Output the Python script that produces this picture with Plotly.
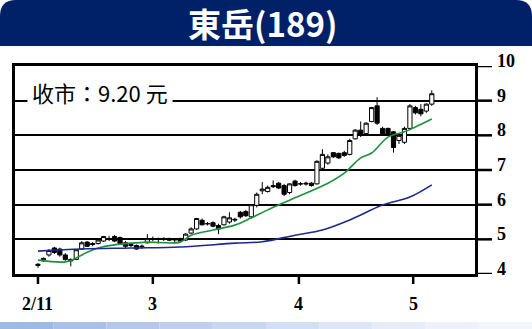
import plotly.graph_objects as go

# ---- data (trading-day index, OHLC) ----
day_idx = list(range(73))
opens = [4.28,4.38,4.55,4.75,4.72,4.55,4.42,4.42,4.72,4.92,4.88,4.88,4.95,5.00,5.08,5.05,4.90,4.85,4.82,4.78,
         4.90,5.00,5.02,5.00,5.00,4.98,5.00,4.98,5.18,5.30,5.55,5.45,5.48,5.40,5.42,5.50,5.58,5.78,5.80,5.65,
         5.98,6.40,6.38,6.55,6.62,6.55,6.35,6.68,6.60,6.62,6.62,6.60,7.05,7.20,7.50,7.48,7.50,7.45,7.90,8.15,
         8.05,8.40,8.85,8.20,8.20,8.10,7.85,7.80,8.20,8.80,8.75,8.70,8.90]
highs = [4.32,4.48,4.72,4.78,4.76,4.60,4.45,4.72,4.95,4.95,4.92,5.00,5.10,5.10,5.12,5.08,4.95,4.90,4.85,4.85,
         5.15,5.08,5.05,5.06,5.05,5.04,5.05,5.18,5.35,5.62,5.60,5.50,5.52,5.45,5.68,5.78,5.62,5.82,5.85,6.02,
         6.35,6.65,6.55,6.70,6.65,6.60,6.62,6.72,6.65,6.66,6.65,7.28,7.60,7.45,7.52,7.50,7.55,7.90,8.18,8.40,
         8.38,8.82,9.10,8.25,8.22,8.12,8.05,8.25,8.90,8.85,8.90,8.92,9.30]
lows = [4.18,4.35,4.50,4.58,4.50,4.38,4.22,4.40,4.70,4.78,4.80,4.85,4.92,4.95,4.92,4.85,4.75,4.78,4.70,4.72,
        4.88,4.95,4.88,4.95,4.95,4.92,4.92,4.95,5.15,5.28,5.40,5.40,5.35,5.15,5.40,5.45,5.50,5.60,5.65,5.60,
        5.92,6.30,6.35,6.48,6.45,6.25,6.30,6.52,6.55,6.55,6.52,6.58,7.00,7.15,7.35,7.32,7.38,7.42,7.88,7.95,
        8.00,8.38,8.30,7.98,7.98,7.50,7.75,7.75,8.18,8.60,8.55,8.65,8.85]
closes = [4.25,4.45,4.68,4.62,4.55,4.42,4.38,4.70,4.90,4.80,4.85,4.98,5.08,5.02,4.95,4.88,4.80,4.82,4.72,4.80,
          5.02,5.02,5.00,5.02,4.98,5.00,4.95,5.15,5.30,5.60,5.42,5.45,5.38,5.30,5.65,5.62,5.56,5.65,5.68,6.00,
          6.30,6.45,6.50,6.52,6.48,6.30,6.60,6.55,6.60,6.60,6.55,7.25,7.45,7.38,7.38,7.35,7.42,7.85,8.15,8.00,
          8.35,8.80,8.35,8.00,8.02,7.65,8.00,8.20,8.85,8.65,8.62,8.90,9.20]

ma_short_idx = [0,5,7,9,11,14,17,20,26,28,32,36,39,42,46,53,56,59,61,64,67,69,72]
ma_short = [4.40,4.35,4.46,4.63,4.75,4.84,4.89,4.92,4.92,5.12,5.27,5.41,5.62,5.85,6.13,6.62,6.91,7.35,7.49,7.95,8.10,8.24,8.47]
ma_long_idx = [0,8,17,26,36,41,47,52,57,63,68,72]
ma_long = [4.66,4.72,4.75,4.78,4.89,4.93,5.12,5.27,5.56,5.99,6.22,6.57]

tick_pos = [0, 21, 47.7, 68.6]
tick_text = ["2/11", "3", "4", "5"]
y_ticks = [4, 5, 6, 7, 8, 9, 10]

title_text = "東岳(189)"
close_text = "收市：9.20 元"

W, H = 532, 329
L, R, T, B = 15, 57, 66, 55
pw, ph = W - L - R, H - T - B

def px_x(p):
    return (p - L) / pw

def px_y(p):
    return (H - B - p) / ph

fig = go.Figure()
fig.add_trace(go.Candlestick(
    x=day_idx, open=opens, high=highs, low=lows, close=closes,
    increasing=dict(line=dict(color="black", width=1), fillcolor="white"),
    decreasing=dict(line=dict(color="black", width=1), fillcolor="black"),
    whiskerwidth=0, showlegend=False, hoverinfo="skip"))
fig.add_trace(go.Scatter(x=ma_short_idx, y=ma_short, mode="lines",
                         line=dict(color="#1f9040", width=1.6, shape="spline"), showlegend=False))
fig.add_trace(go.Scatter(x=ma_long_idx, y=ma_long, mode="lines",
                         line=dict(color="#1c2a8c", width=1.6, shape="spline"), showlegend=False))

shapes = []
# title bar with rounded top corners
x0, x1 = px_x(0), px_x(W)
yb, yt = px_y(46), px_y(0)
rx, ry = 16 / pw, 16 / ph
path = (f"M {x0},{yb} L {x0},{yt-ry} Q {x0},{yt} {x0+rx},{yt} L {x1-rx},{yt} "
        f"Q {x1},{yt} {x1},{yt-ry} L {x1},{yb} Z")
shapes.append(dict(type="path", xref="paper", yref="paper", path=path,
                   fillcolor="#002068", line=dict(width=0), layer="below"))
# bottom gradient band
band_cols = ["#9fb9e6", "#a9c0e9", "#b4c8ec", "#bfd0ef", "#c9d8f2", "#d3dff4", "#dde6f6", "#e6ecf8", "#edf1f9", "#f2f5fb"]
n = len(band_cols)
for i, c in enumerate(band_cols):
    shapes.append(dict(type="rect", xref="paper", yref="paper",
                       x0=px_x(W * i / n), x1=px_x(W * (i + 1) / n),
                       y0=px_y(H), y1=px_y(322), fillcolor=c, line=dict(width=0), layer="below"))
# tick marks
for tp in tick_pos:
    shapes.append(dict(type="line", xref="x", yref="paper", x0=tp, x1=tp,
                       y0=0, y1=px_y(284), line=dict(color="black", width=2.5)))
for yv in y_ticks:
    shapes.append(dict(type="line", xref="paper", yref="y", x0=1, x1=px_x(492),
                       y0=yv, y1=yv, line=dict(color="black", width=2.5)))

annotations = [
    dict(text=close_text, xref="paper", yref="y", x=px_x(27), y=9.25,
         xanchor="left", yanchor="middle", showarrow=False,
         bgcolor="white", borderpad=4,
         font=dict(family="Noto Sans CJK TC", size=22, color="black")),
    dict(text=f"<b>{title_text}</b>", xref="paper", yref="paper", x=px_x(262), y=px_y(23),
         xanchor="center", yanchor="middle", showarrow=False,
         font=dict(family="Noto Sans CJK TC", size=33, color="white")),
]
for tp, tt in zip(tick_pos, tick_text):
    annotations.append(dict(text=f"<b>{tt}</b>", xref="x", yref="paper", x=tp, y=px_y(304),
                            xanchor="center", yanchor="middle", showarrow=False,
                            font=dict(family="Liberation Serif", size=18, color="black")))
for yv in y_ticks:
    annotations.append(dict(text=f"<b>{yv}</b>", xref="paper", yref="y", x=px_x(495), y=yv,
                            yshift=5, xanchor="left", yanchor="middle", showarrow=False,
                            font=dict(family="Liberation Serif", size=18, color="black")))

fig.update_layout(
    width=W, height=H,
    margin=dict(l=L, r=R, t=T, b=B, pad=0),
    paper_bgcolor="white", plot_bgcolor="white",
    boxgap=0.15, boxgroupgap=0.1,
    shapes=shapes, annotations=annotations,
    xaxis=dict(range=[-4.2, 79.9], showticklabels=False, ticks="",
               showgrid=False, zeroline=False, rangeslider=dict(visible=False),
               showline=True, linecolor="black", linewidth=2.5, mirror=True),
    yaxis=dict(range=[4, 10], tickvals=y_ticks, side="right", showticklabels=False, ticks="",
               showgrid=True, gridcolor="black", gridwidth=1.8, zeroline=False,
               showline=True, linecolor="black", linewidth=2.5, mirror=True),
)

fig.write_html("out.html")
